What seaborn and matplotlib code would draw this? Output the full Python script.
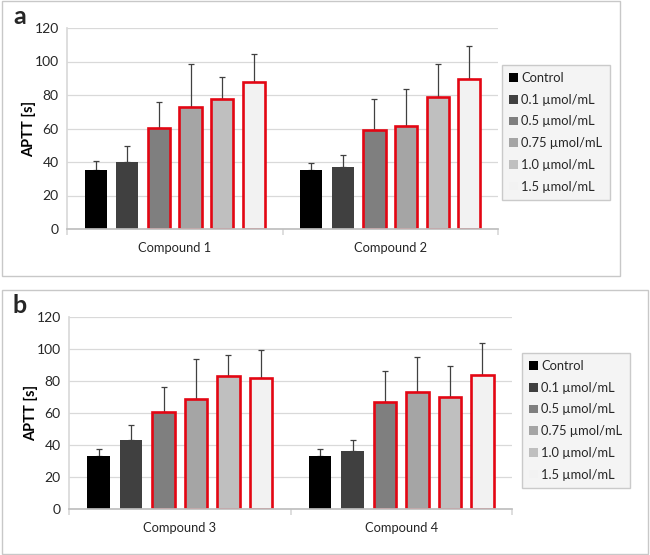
import matplotlib
matplotlib.use("Agg")
import matplotlib.pyplot as plt
from matplotlib.patches import Patch, Rectangle
import pandas as pd
import seaborn as sns

doses = ["Control", "0.1 µmol/mL", "0.5 µmol/mL", "0.75 µmol/mL",
         "1.0 µmol/mL", "1.5 µmol/mL"]
dose_colors = ["#000000", "#404040", "#7f7f7f", "#a5a5a5", "#bfbfbf", "#f2f2f2"]
outlined = [False, False, True, True, True, True]

compounds_a = ["Compound 1", "Compound 2"]
mean_c1 = [35.5, 40.0, 60.5, 73.0, 77.5, 87.5]
sd_c1 = [5.0, 9.5, 15.5, 25.5, 13.0, 17.0]
mean_c2 = [35.5, 37.0, 59.0, 61.5, 79.0, 89.5]
sd_c2 = [4.0, 7.0, 18.5, 22.0, 19.5, 19.5]

compounds_b = ["Compound 3", "Compound 4"]
mean_c3 = [33.0, 43.0, 60.5, 68.5, 83.0, 82.0]
sd_c3 = [4.5, 9.5, 16.0, 25.5, 13.5, 17.5]
mean_c4 = [33.0, 36.5, 67.0, 73.0, 70.0, 84.0]
sd_c4 = [4.5, 6.5, 19.0, 22.0, 19.5, 20.0]

sns.set_theme(style="white")
plt.rcParams["font.family"] = ["Lato", "DejaVu Sans"]

GRID = "#d9d9d9"
TXT = "#262626"


def make_frame(compounds, means, sds):
    rows = []
    for comp, m, s in zip(compounds, means, sds):
        for d, v, e in zip(doses, m, s):
            rows.append({"compound": comp, "dose": d, "aptt": v, "sd": e})
    return pd.DataFrame(rows)


def draw_panel(fig, rect, df, compounds):
    ax = fig.add_axes(rect)
    sns.barplot(data=df, x="compound", y="aptt", hue="dose", order=compounds,
                hue_order=doses, palette=dose_colors, width=0.88, gap=0.3,
                errorbar=None, legend=False, saturation=1, ax=ax, zorder=2)
    bar_groups = list(ax.containers)
    for i, cont in enumerate(bar_groups):
        sub = df[df.dose == doses[i]].set_index("compound").loc[compounds]
        for bar, err in zip(cont.patches, sub["sd"]):
            if outlined[i]:
                bar.set_edgecolor("#e30613")
                bar.set_linewidth(1.9)
            else:
                bar.set_linewidth(0)
            xc = bar.get_x() + bar.get_width() / 2
            h = bar.get_height()
            ax.errorbar(xc, h, yerr=[[0], [err]], color="#404040",
                        lw=0.9, capsize=2.3, capthick=0.9, zorder=1)
    ax.set_ylim(0, 120)
    ax.set_xlim(-0.5, 1.5)
    ax.set_yticks(range(0, 121, 20))
    ax.yaxis.grid(True, color=GRID, lw=0.9, zorder=0)
    ax.set_axisbelow(True)
    ax.set_xticks([-0.5, 0.5, 1.5])
    ax.set_xticklabels([])
    ax.set_xticks([0, 1], minor=True)
    ax.set_xticklabels(compounds, minor=True, fontsize=9.3, color=TXT)
    ax.tick_params(axis="x", which="major", length=4, color=GRID,
                   direction="out", bottom=True)
    ax.tick_params(axis="x", which="minor", length=0, pad=9)
    ax.tick_params(axis="y", length=0, labelsize=10, labelcolor=TXT, pad=6)
    for s in ["top", "right"]:
        ax.spines[s].set_visible(False)
    ax.spines["left"].set_color(GRID)
    ax.spines["bottom"].set_color("#bfbfbf")
    ax.set_xlabel("")
    ax.set_ylabel("APTT [s]", fontsize=10.5, fontweight="bold",
                  color="#000000", labelpad=-1)
    return ax


def add_legend(ax, anchor):
    handles = [Patch(facecolor=c, edgecolor="none") for c in dose_colors]
    leg = ax.legend(handles, doses, loc="upper left", bbox_to_anchor=anchor,
                    bbox_transform=ax.figure.transFigure, frameon=True,
                    fancybox=False, fontsize=9.3, handlelength=0.65,
                    handleheight=0.65, handletextpad=0.3, labelspacing=0.75,
                    borderpad=0.55, borderaxespad=0)
    fr = leg.get_frame()
    fr.set_facecolor("#f2f2f2")
    fr.set_edgecolor("#bfbfbf")
    fr.set_linewidth(1)
    for t in leg.get_texts():
        t.set_color(TXT)


W, H = 650, 555
fig = plt.figure(figsize=(6.5, 5.55), dpi=100)

# panel borders
fig.patches.append(Rectangle((2 / W, 1 - 276 / H), 618 / W, 275 / H,
                             transform=fig.transFigure, fill=False,
                             edgecolor="#c8c8c8", lw=1))
fig.patches.append(Rectangle((2 / W, 1 - 554 / H), 646 / W, 264 / H,
                             transform=fig.transFigure, fill=False,
                             edgecolor="#c8c8c8", lw=1))

df_a = make_frame(compounds_a, [mean_c1, mean_c2], [sd_c1, sd_c2])
ax_a = draw_panel(fig, [67 / W, 1 - 229 / H, 431 / W, 201 / H], df_a,
                  compounds_a)
add_legend(ax_a, (502 / W, 1 - 65 / H))

df_b = make_frame(compounds_b, [mean_c3, mean_c4], [sd_c3, sd_c4])
ax_b = draw_panel(fig, [69 / W, 1 - 509 / H, 443 / W, 192 / H], df_b,
                  compounds_b)
add_legend(ax_b, (522 / W, 1 - 353 / H))

fig.text(13 / W, 1 - 24 / H, "a", fontsize=18, fontweight="bold")
fig.text(13 / W, 1 - 313 / H, "b", fontsize=18, fontweight="bold")

fig.savefig("out.png", dpi=100)
